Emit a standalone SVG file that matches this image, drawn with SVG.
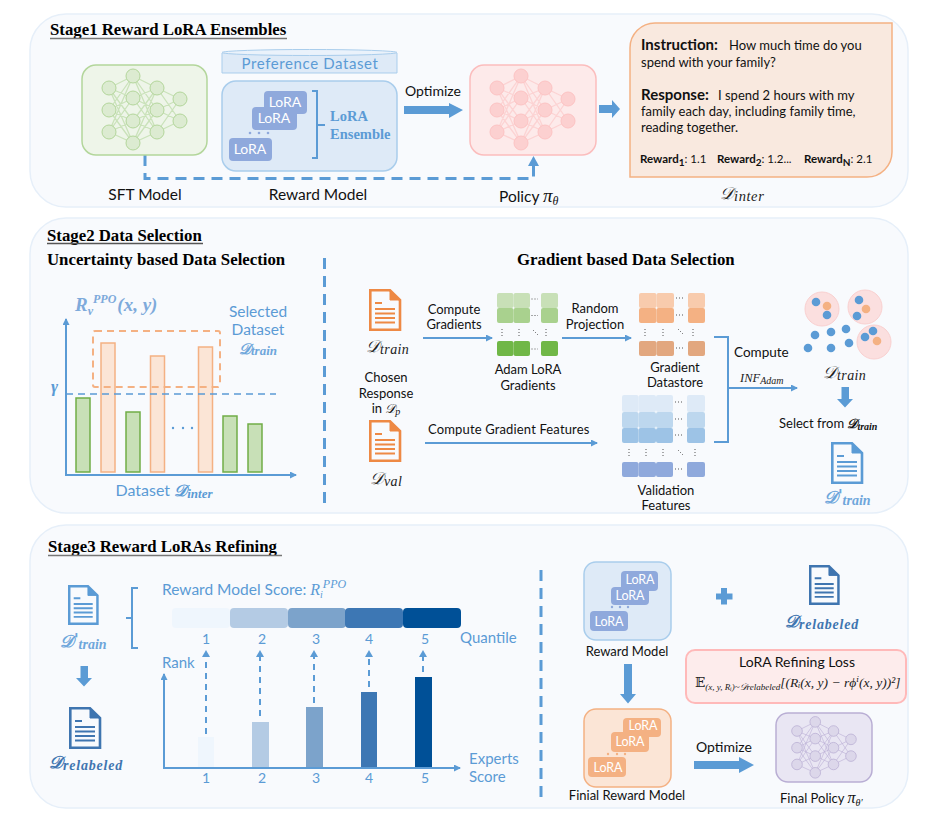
<svg xmlns="http://www.w3.org/2000/svg" width="945" height="824" viewBox="0 0 945 824">
<style>
.panel{fill:#f8fafd;stroke:#e6eff9;stroke-width:1.5}
.t{font-family:"Lato","Open Sans",sans-serif;font-size:14px;fill:#111}
.m{text-anchor:middle}
.blue{fill:#5b9bd5}
.b{font-weight:700}
.h{font-family:"Liberation Serif",serif;font-weight:700;font-size:16.8px;fill:#000}
.e{font-family:"Liberation Serif","DejaVu Serif",serif;font-style:italic}
.sub{font-size:10px}
.lo{font-family:"Lato",sans-serif;font-size:14px;fill:#fff;text-anchor:middle}
.lb{fill:#8fa9dc}
.lo2{fill:#f4b183}
.ln{fill:none;stroke:#5b9bd5;stroke-width:2}
.dash{fill:none;stroke:#5b9bd5;stroke-width:3;stroke-dasharray:11 7}
.thin{fill:none;stroke:#5b9bd5;stroke-width:2;stroke-dasharray:6 5}
.fat{fill:#5b9bd5}
.dots{fill:none;stroke:#555;stroke-width:1;stroke-dasharray:1 2}
.green{fill:#c8e0b7;stroke:#70ad47;stroke-width:1.5}
.or{fill:#fbe5d6;stroke:#f4b183;stroke-width:1.5}
.s13{font-size:13px}
.s15{font-size:15.5px}
</style>
<defs>
<marker id="ah" markerWidth="8" markerHeight="8" refX="6" refY="3.5" orient="auto" markerUnits="userSpaceOnUse"><path d="M0,0L7,3.5L0,7z" fill="#5b9bd5"/></marker>
<g id="net" fill="none" stroke="currentColor">
<path stroke-width="1.3" opacity=".6" d="M0,0L24,-12M0,0L24,10M0,0L24,33M0,0L24,55M0,22L24,-12M0,22L24,10M0,22L24,33M0,22L24,55M0,44L24,-12M0,44L24,10M0,44L24,33M0,44L24,55M24,-12L48,0M24,-12L48,22M24,-12L48,44M24,10L48,0M24,10L48,22M24,10L48,44M24,33L48,0M24,33L48,22M24,33L48,44M24,55L48,0M24,55L48,22M24,55L48,44M48,0L71,11M48,0L71,33M48,22L71,11M48,22L71,33M48,44L71,11M48,44L71,33"/>
<g fill="var(--nf)" stroke-width="1">
<circle cx="0" cy="0" r="7"/><circle cx="0" cy="22" r="7"/><circle cx="0" cy="44" r="7"/>
<circle cx="24" cy="-12" r="7"/><circle cx="24" cy="10" r="7"/><circle cx="24" cy="33" r="7"/><circle cx="24" cy="55" r="7"/>
<circle cx="48" cy="0" r="7"/><circle cx="48" cy="22" r="7"/><circle cx="48" cy="44" r="7"/>
<circle cx="71" cy="11" r="7"/><circle cx="71" cy="33" r="7"/>
</g></g>
<g id="doc" fill="none" stroke="currentColor">
<path stroke-width="2.6" d="M1.3,1.3H21L31,11V40.7H1.3z"/>
<path d="M21,1.3V11H31z" fill="currentColor" stroke-width="1"/>
<path stroke-width="2" d="M6,14H13M6,20H26M6,24.500H26M6,29H26M6,33.500H26"/>
</g>
</defs>

<g id="panel-stage1"><rect class="panel" x="30" y="14" width="878" height="193" rx="36"/></g>
<g id="panel-stage2"><rect class="panel" x="30" y="218" width="878" height="295" rx="36"/></g>
<g id="panel-stage3"><rect class="panel" x="30" y="525" width="878" height="283" rx="36"/></g>

<g id="stage-titles">
<text class="h" x="50" y="35">Stage1 Reward LoRA Ensembles</text><path d="M50,38.500H287" stroke="#777" stroke-width="1.500"/>
<text class="h" x="47" y="241">Stage2 Data Selection</text><path d="M47,243.500H203" stroke="#555" stroke-width="1.500"/>
<text class="h" x="47" y="265">Uncertainty based Data Selection</text>
<text class="h" x="517" y="265">Gradient based Data Selection</text>
<text class="h" x="48" y="552">Stage3 Reward LoRAs Refining</text><path d="M48,555.500H282" stroke="#777" stroke-width="1.500"/>
</g>

<g id="connectors">
<path class="dash" d="M145,155V178.500H533.500V166"/>
<path d="M528,166L533.500,156L539,166z" class="fat"/>
<path class="fat" d="M404,106H449V103L463,110L449,118V114H404z"/>
<path class="fat" d="M599,105H612V100L620,109L612,118V113H599z"/>
<path class="ln" marker-end="url(#ah)" d="M423,338H492"/>
<path class="ln" marker-end="url(#ah)" d="M562,338H631"/>
<path class="ln" marker-end="url(#ah)" d="M425,443H597"/>
<path class="ln" d="M714,337H728V442H714"/>
<path class="ln" marker-end="url(#ah)" d="M728,388H797"/>
<path class="fat" d="M841.500,387H849V399H853L845,407.500L837,399H841.500z"/>
<path class="fat" d="M80.500,666H88V678H92L84,686.500L76,678H80.500z"/>
<path class="fat" d="M624,664H632V694H636L628,703.500L620,694H624z"/>
<path class="fat" d="M694,761H739V757L754,765L739,773V769H694z"/>
<g class="thin"><path d="M206,734V656"/><path d="M260,716V656"/><path d="M314,703V656"/><path d="M369,687V656"/><path d="M423,672V656"/></g>
<g class="fat"><path d="M202,657L206,650L210,657z"/><path d="M256,657L260,650L264,657z"/><path d="M310,657L314,650L318,657z"/><path d="M365,657L369,650L373,657z"/><path d="M419,657L423,650L427,657z"/></g>
<path class="dash" d="M324.500,258V505"/>
<path class="dash" d="M541,570V798"/>
</g>

<g id="node-sft">
<rect x="82" y="65" width="125" height="90" rx="14" fill="#eef5e9" stroke="#b3d69b" stroke-width="1.500"/>
<use href="#net" x="109" y="88" color="#b3d69b" style="--nf:#dcebd1"/>
<text class="t m s15" x="145" y="200">SFT Model</text>
</g>
<g id="node-preference">
<path d="M222,53V73H397V53" fill="#deeaf7" stroke="#a9cdec" stroke-width="1"/>
<ellipse cx="309.500" cy="52.500" rx="87.500" ry="3" fill="#eaf2fb" stroke="#a9cdec"/>
<text class="t m blue" x="310" y="69" letter-spacing=".6" style="font-size:15px">Preference Dataset</text>
</g>
<g id="node-reward">
<rect x="222" y="81" width="175" height="90" rx="14" fill="#deeaf7" stroke="#a9cdec" stroke-width="1.500"/>
<rect class="lb" x="264" y="91" width="43" height="23" rx="4"/><text class="lo" x="285" y="107">LoRA</text>
<rect class="lb" x="252" y="107" width="45" height="23" rx="4"/><text class="lo" x="274" y="123">LoRA</text>
<rect class="lb" x="229" y="138" width="43" height="23" rx="4"/><text class="lo" x="250" y="154">LoRA</text>
<g class="lb"><circle cx="250" cy="133" r="1.300"/><circle cx="259" cy="133" r="1.300"/><circle cx="268" cy="133" r="1.300"/></g>
<path class="ln" d="M312,91H317V158H312M317,125H325"/>
<text class="h" x="330" y="121" style="font-size:14.500px;fill:#5b9bd5">LoRA</text>
<text class="h" x="330" y="139" style="font-size:14.500px;fill:#5b9bd5">Ensemble</text>
<text class="t m s15" x="318" y="200">Reward Model</text>
</g>
<text class="t m" x="433" y="96" id="label-optimize-1">Optimize</text>
<g id="node-policy">
<rect x="470" y="65" width="126" height="90" rx="14" fill="#fdeaea" stroke="#fbbdbd" stroke-width="1.500"/>
<use href="#net" x="497" y="88" color="#fcc3c3" style="--nf:#fcd0d0"/>
<text class="t s15" x="499" y="202">Policy <tspan class="e" font-size="19">π</tspan><tspan class="e" font-size="12" dy="3">θ</tspan></text>
</g>
<g id="node-inter">
<path d="M655,23H892V152A25,25 0 0 1 867,177H630V48A25,25 0 0 1 655,23z" fill="#f9e9df" stroke="#f4b183" stroke-width="1.500"/>
<text class="t b" x="641" y="50" style="font-size:15px">Instruction:</text><text class="t s13" x="729" y="50">How much time do you</text>
<text class="t s13" x="641" y="67">spend with your family?</text>
<text class="t b" x="641" y="100" style="font-size:15px">Response:</text><text class="t s13" x="718" y="100">I spend 2 hours with my</text>
<text class="t s13" x="641" y="116">family each day, including family time,</text>
<text class="t s13" x="641" y="132">reading together.</text>
<text class="t b" x="640" y="163" style="font-size:11.500px">Reward<tspan class="sub" dy="3">1</tspan><tspan dy="-3" font-weight="400">: 1.1</tspan></text>
<text class="t b" x="717" y="163" style="font-size:11.500px">Reward<tspan class="sub" dy="3">2</tspan><tspan dy="-3" font-weight="400">: 1.2...</tspan></text>
<text class="t b" x="804" y="163" style="font-size:11.500px">Reward<tspan class="sub" dy="3">N</tspan><tspan dy="-3" font-weight="400">: 2.1</tspan></text>
<text class="e" x="720" y="199" font-size="17" fill="#222">𝒟<tspan font-size="14.500" dy="2" letter-spacing=".6">inter</tspan></text>
</g>

<g id="node-chart">
<g class="green"><rect x="76" y="398" width="14" height="74"/><rect x="126" y="412" width="14" height="60"/><rect x="223" y="416" width="14" height="56"/><rect x="248" y="424" width="14" height="48"/></g>
<g class="or"><rect x="101" y="343" width="14" height="129"/><rect x="150.500" y="356" width="14" height="116"/><rect x="198.500" y="347" width="14" height="125"/></g>
<rect x="93" y="331" width="127" height="56" rx="2" fill="none" stroke="#f4b183" stroke-width="2" stroke-dasharray="7 5"/>
<path d="M66,394H276" fill="none" stroke="#5b9bd5" stroke-width="1.500" stroke-dasharray="7 5"/>
<path class="ln" marker-end="url(#ah)" d="M66,475V319"/>
<path class="ln" marker-end="url(#ah)" d="M65,475H296"/>
<g class="blue"><circle cx="173" cy="428" r="1.200"/><circle cx="183" cy="428" r="1.200"/><circle cx="192" cy="428" r="1.200"/></g>
<text class="e b blue" x="51" y="392" font-size="17">γ</text>
<text class="e b" x="75" y="311" font-size="19" style="fill:#7eaadb">R<tspan font-size="12" dy="4">v</tspan><tspan font-size="12" dy="-12">PPO</tspan><tspan font-size="19" dy="8" dx="1">(x, y)</tspan></text>
<text class="t m blue s15" x="258" y="317">Selected</text>
<text class="t m blue s15" x="258" y="335">Dataset</text>
<text class="e b m" x="258" y="354" font-size="15" style="fill:#6ea6db">𝒟<tspan font-size="13" dy="1">train</tspan></text>
<text class="t m blue" x="164" y="496" style="font-size:16px">Dataset <tspan class="e b">𝒟</tspan><tspan class="e b" font-size="13" dy="2">inter</tspan></text>
</g>

<g id="node-doc-train"><use href="#doc" x="369" y="289" color="#ed7d31" opacity=".9"/><text class="e" x="366" y="352" font-size="17" fill="#222">𝒟<tspan font-size="14" dy="2" letter-spacing=".4">train</tspan></text></g>
<g id="node-doc-val"><use href="#doc" x="369" y="420" color="#ed7d31" opacity=".9"/><text class="e" x="370" y="484" font-size="17" fill="#222">𝒟<tspan font-size="14" dy="2" letter-spacing=".4">val</tspan></text>
<text class="t m s13" x="386" y="382">Chosen</text><text class="t m s13" x="386" y="398">Response</text><text class="t m s13" x="386" y="413">in <tspan class="e">𝒟</tspan><tspan class="e sub" dy="2">p</tspan></text></g>
<text class="t m s13" x="454" y="314">Compute</text><text class="t m s13" x="454" y="329">Gradients</text>
<text class="t m s13" x="595" y="313">Random</text><text class="t m s13" x="595" y="329">Projection</text>
<text class="t s13" x="428" y="434" letter-spacing=".15">Compute Gradient Features</text>

<g id="node-adam">
<g fill="#c8e0b7"><rect x="497" y="293" width="16.500" height="15" rx="2"/><rect x="513.500" y="293" width="16.500" height="15" rx="2"/><rect x="541" y="293" width="17" height="15" rx="2"/></g>
<g fill="#a9d18e"><rect x="497" y="308" width="16.500" height="15" rx="2"/><rect x="513.500" y="308" width="16.500" height="15" rx="2"/><rect x="541" y="308" width="17" height="15" rx="2"/></g>
<g fill="#70b747"><rect x="497" y="341" width="16.500" height="15" rx="2"/><rect x="513.500" y="341" width="16.500" height="15" rx="2"/><rect x="541" y="341" width="17" height="15" rx="2"/></g>
<path class="dots" d="M531.500,299H538M531.500,315.500H538M531.500,349H538M502,329V337M519,329V337M546,329V337M533,330L538,335"/>
<text class="t m s13" x="528" y="374">Adam LoRA</text><text class="t m s13" x="528" y="390">Gradients</text>
</g>
<g id="node-datastore">
<g fill="#f8cbad"><rect x="639" y="293" width="17.500" height="15" rx="2"/><rect x="656.500" y="293" width="17.500" height="15" rx="2"/><rect x="688" y="293" width="17" height="15" rx="2"/></g>
<g fill="#f4b183"><rect x="639" y="308" width="17.500" height="15" rx="2"/><rect x="656.500" y="308" width="17.500" height="15" rx="2"/><rect x="688" y="308" width="17" height="15" rx="2"/></g>
<g fill="#e2a77f"><rect x="639" y="341" width="17.500" height="15" rx="2"/><rect x="656.500" y="341" width="17.500" height="15" rx="2"/><rect x="688" y="341" width="17" height="15" rx="2"/></g>
<path class="dots" d="M676,298H683M676,315H683M676,348H683M645,329V337M663,329V337M693,329V337M678,329L683,334"/>
<text class="t m s13" x="675" y="372">Gradient</text><text class="t m s13" x="675" y="387">Datastore</text>
</g>
<g id="node-validation">
<g fill="#deeaf7"><rect x="622" y="395" width="16.500" height="17" rx="2"/><rect x="638.500" y="395" width="17.500" height="17" rx="2"/><rect x="656" y="395" width="17" height="17" rx="2"/><rect x="687" y="395" width="18" height="17" rx="2"/></g>
<g fill="#bdd7ee"><rect x="622" y="412" width="16.500" height="16" rx="2"/><rect x="638.500" y="412" width="17.500" height="16" rx="2"/><rect x="656" y="412" width="17" height="16" rx="2"/><rect x="687" y="412" width="18" height="16" rx="2"/></g>
<g fill="#9dc3e6"><rect x="622" y="428" width="16.500" height="15" rx="2"/><rect x="638.500" y="428" width="17.500" height="15" rx="2"/><rect x="656" y="428" width="17" height="15" rx="2"/><rect x="687" y="428" width="18" height="15" rx="2"/></g>
<g class="lb"><rect x="622" y="462" width="16.500" height="15" rx="2"/><rect x="638.500" y="462" width="17.500" height="15" rx="2"/><rect x="656" y="462" width="17" height="15" rx="2"/><rect x="687" y="462" width="18" height="15" rx="2"/></g>
<path class="dots" d="M675,402H682M675,419H682M675,435H682M675,469H682M629,449V456M646,449V456M663,449V456M695,449V456M678,450L683,455"/>
<text class="t m s13" x="666" y="495">Validation</text><text class="t m s13" x="666" y="510">Features</text>
</g>
<text class="t" x="734" y="357" style="font-size:13.500px">Compute</text>
<text class="e" x="740" y="382" font-size="12.500" fill="#222">INF<tspan font-size="10" dy="2">Adam</tspan></text>

<g id="node-clusters">
<g fill="#fbdfdf" stroke="#f9d0d0"><circle cx="822" cy="309" r="17"/><circle cx="865" cy="307" r="17"/><circle cx="874" cy="342" r="17"/></g>
<g fill="#5b9bd5"><circle cx="816" cy="302" r="4.300"/><circle cx="827" cy="315" r="4.300"/><circle cx="859" cy="300" r="4.300"/><circle cx="857" cy="316" r="4.300"/><circle cx="873" cy="331" r="4.300"/><circle cx="865" cy="337" r="4.300"/><circle cx="815" cy="335" r="4.300"/><circle cx="831" cy="332" r="4.300"/><circle cx="846" cy="329" r="4.300"/><circle cx="849" cy="343" r="4.300"/><circle cx="831" cy="348" r="4.300"/><circle cx="808" cy="348" r="4.300"/></g>
<g fill="#f4b183"><circle cx="827" cy="306" r="4.300"/><circle cx="866" cy="309" r="4.300"/><circle cx="877" cy="341" r="4.300"/></g>
<text class="e" x="823" y="378" font-size="17" fill="#222">𝒟<tspan font-size="14" dy="2" letter-spacing=".4">train</tspan></text>
<text class="t s13" x="779" y="428">Select from <tspan class="e b">𝒟</tspan><tspan class="e b sub" dy="2">train</tspan></text>
</g>
<g id="node-doc-train-prime"><use href="#doc" x="831" y="442" color="#5b9bd5"/><text class="e b" x="824" y="503" font-size="17" style="fill:#6ea6db">𝒟<tspan font-family="DejaVu Sans" font-style="normal" font-size="15" dy="-2">'</tspan><tspan font-size="14" dy="4">train</tspan></text></g>

<g id="node-doc-left"><use href="#doc" transform="translate(68,585) scale(.95)" color="#5b9bd5"/><text class="e b" x="60" y="647" font-size="17" style="fill:#6ea6db">𝒟<tspan font-family="DejaVu Sans" font-style="normal" font-size="15" dy="-2">'</tspan><tspan font-size="14" dy="4">train</tspan></text></g>
<g id="node-doc-relabeled"><use href="#doc" transform="translate(69,707)" color="#3f75b0"/><text class="e b" x="49" y="768" font-size="17" fill="#3f75b0">𝒟<tspan font-size="14" dy="2" letter-spacing=".8">relabeled</tspan></text></g>
<path class="ln" id="bracket-left" d="M138,588H132V648H138M132,618H126"/>

<g id="node-rank-chart">
<text class="t blue s15" x="162" y="595">Reward Model Score: <tspan class="e" font-size="16">R</tspan><tspan class="e" font-size="10" dy="3">i</tspan><tspan class="e" font-size="12" dy="-10">PPO</tspan></text>
<rect x="172" y="608" width="58" height="20" rx="4" fill="#eff6fd"/><rect x="230" y="608" width="58" height="20" rx="4" fill="#b4cbe4"/><rect x="288" y="608" width="58" height="20" rx="4" fill="#7ca3cb"/><rect x="345" y="608" width="58" height="20" rx="4" fill="#3d77b4"/><rect x="403" y="608" width="58" height="20" rx="4" fill="#005097"/>
<g class="t m blue"><text x="206" y="644">1</text><text x="262" y="644">2</text><text x="316" y="644">3</text><text x="369" y="644">4</text><text x="425" y="644">5</text>
<text x="206" y="783">1</text><text x="262" y="783">2</text><text x="316" y="783">3</text><text x="369" y="783">4</text><text x="425" y="783">5</text></g>
<text class="t blue" x="460" y="643" style="font-size:15px">Quantile</text>
<text class="t blue" x="162" y="668" style="font-size:15px">Rank</text>
<text class="t blue" x="469" y="764" style="font-size:15px">Experts</text><text class="t blue" x="469" y="782" style="font-size:15px">Score</text>
<rect x="198" y="737" width="16" height="31" fill="#eff6fd"/><rect x="252" y="722" width="17" height="46" fill="#b4cbe4"/><rect x="306" y="707" width="17" height="61" fill="#7ca3cb"/><rect x="361" y="692" width="16" height="76" fill="#3d77b4"/><rect x="415" y="677" width="17" height="91" fill="#005097"/>
<path class="ln" marker-end="url(#ah)" d="M164,769V674"/><path class="ln" marker-end="url(#ah)" d="M163,768H460"/>
</g>

<g id="node-reward-2">
<rect x="584" y="562" width="87" height="78" rx="12" fill="#deeaf7" stroke="#a9cdec" stroke-width="1.500"/>
<rect class="lb" x="621" y="571" width="37" height="20" rx="4"/><text class="lo" x="640" y="584" style="font-size:12.500px">LoRA</text>
<rect class="lb" x="611" y="587" width="38" height="18" rx="4"/><text class="lo" x="630" y="600" style="font-size:12.500px">LoRA</text>
<rect class="lb" x="590" y="611" width="38" height="20" rx="4"/><text class="lo" x="609" y="626" style="font-size:12.500px">LoRA</text>
<g class="lb"><circle cx="612" cy="607" r="1.200"/><circle cx="620" cy="607" r="1.200"/><circle cx="628" cy="607" r="1.200"/></g>
<text class="t m s13" x="627" y="656">Reward Model</text>
</g>
<g id="node-final-reward">
<rect x="584" y="709" width="87" height="78" rx="12" fill="#fbe5d6" stroke="#f4b183" stroke-width="1.500"/>
<rect class="lo2" x="623" y="718" width="38" height="19" rx="4"/><text class="lo" x="643" y="730" style="font-size:12.500px">LoRA</text>
<rect class="lo2" x="611" y="732" width="38" height="20" rx="4"/><text class="lo" x="630" y="746" style="font-size:12.500px">LoRA</text>
<rect class="lo2" x="588" y="757" width="38" height="20" rx="4"/><text class="lo" x="608" y="772" style="font-size:12.500px">LoRA</text>
<g class="lo2"><circle cx="608" cy="754" r="1.200"/><circle cx="617" cy="754" r="1.200"/><circle cx="625" cy="754" r="1.200"/></g>
<text class="t m s13" x="627" y="800">Finial Reward Model</text>
</g>
<path class="fat" id="plus" d="M721,588H727V593.500H732.500V599.500H727V604.500H721V599.500H716V593.500H721z"/>
<g id="node-doc-relabeled-2"><use href="#doc" transform="translate(809,565) scale(.95)" color="#3f75b0"/><text class="e b" x="785" y="627" font-size="17" fill="#3f75b0">𝒟<tspan font-size="14" dy="2" letter-spacing=".8">relabeled</tspan></text></g>
<g id="node-loss">
<rect x="686" y="650" width="220" height="53" rx="9" fill="#fdecec" stroke="#ffb9b9" stroke-width="2"/>
<text class="t m" x="797" y="667">LoRA Refining Loss</text>
<text class="e" x="695" y="687" font-size="13.500" fill="#222"><tspan font-style="normal">𝔼</tspan><tspan font-size="9" dy="3">(x, y, Rᵢ)~𝒟relabeled</tspan><tspan dy="-3">[(Rᵢ(x, y) − rϕⁱ(x, y))²]</tspan></text>
</g>
<text class="t m" id="label-optimize-2" x="724" y="752">Optimize</text>
<g id="node-final-policy">
<rect x="776" y="713" width="96" height="69" rx="12" fill="#e9e6f3" stroke="#b9aed4" stroke-width="1.500"/>
<use href="#net" transform="translate(797,731) scale(.76)" color="#b9aed4" style="--nf:#dcd7ea"/>
<text class="t s13" x="780" y="803">Final Policy <tspan class="e" font-size="16">π</tspan><tspan class="e sub" dy="3">θ′</tspan></text>
</g>
</svg>
